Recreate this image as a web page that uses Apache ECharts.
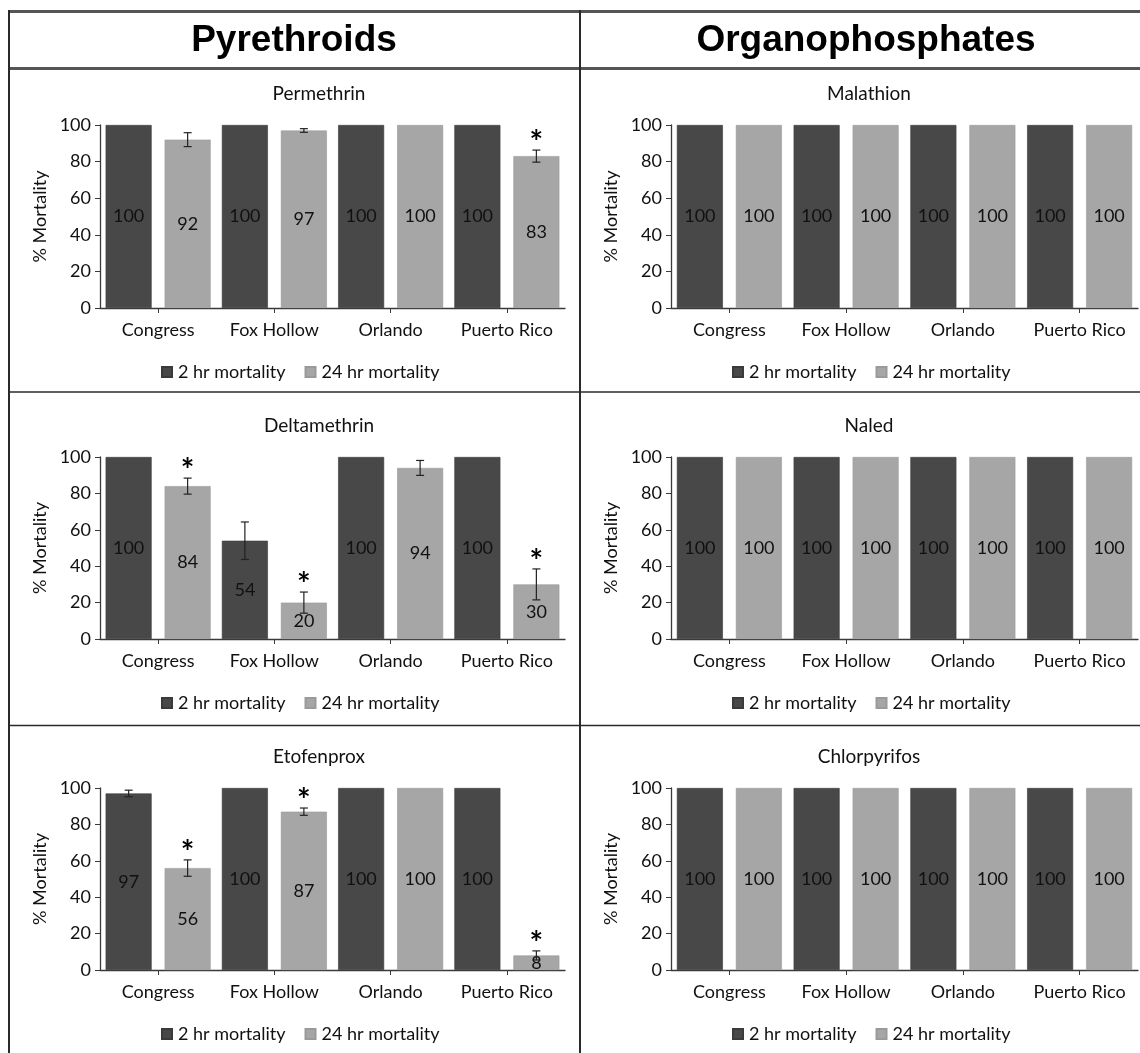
<!DOCTYPE html>
<html>
<head>
<meta charset="utf-8">
<script src="https://cdn.jsdelivr.net/npm/echarts@6/dist/echarts.min.js"></script>
<style>
html,body{margin:0;padding:0;background:#fff;}
#chart{width:1140px;height:1053px;}
</style>
</head>
<body>
<div id="chart"></div>
<script>
// ---------- DATA ----------
const categories = ['Congress', 'Fox Hollow', 'Orlando', 'Puerto Rico'];
const seriesNames = ['2 hr mortality', '24 hr mortality'];
const groupTitles = ['Pyrethroids', 'Organophosphates'];
const yTicks = [0, 20, 40, 60, 80, 100];

const permethrinTitle = 'Permethrin';
const permethrin2h = [100, 100, 100, 100];
const permethrin2hErr = [0, 0, 0, 0];
const permethrin24h = [92, 97, 100, 83];
const permethrin24hErr = [3.8, 1, 0, 3.3];
const permethrin24hSig = [0, 0, 0, 1];

const deltamethrinTitle = 'Deltamethrin';
const deltamethrin2h = [100, 54, 100, 100];
const deltamethrin2hErr = [0, 10.3, 0, 0];
const deltamethrin24h = [84, 20, 94, 30];
const deltamethrin24hErr = [4.4, 5.8, 4.1, 8.5];
const deltamethrin24hSig = [1, 1, 0, 1];

const etofenproxTitle = 'Etofenprox';
const etofenprox2h = [97, 100, 100, 100];
const etofenprox2hErr = [1.8, 0, 0, 0];
const etofenprox24h = [56, 87, 100, 8];
const etofenprox24hErr = [4.5, 2, 0, 2.5];
const etofenprox24hSig = [1, 1, 0, 1];

const malathionTitle = 'Malathion';
const malathion2h = [100, 100, 100, 100];
const malathion2hErr = [0, 0, 0, 0];
const malathion24h = [100, 100, 100, 100];
const malathion24hErr = [0, 0, 0, 0];
const malathion24hSig = [0, 0, 0, 0];

const naledTitle = 'Naled';
const naled2h = [100, 100, 100, 100];
const naled2hErr = [0, 0, 0, 0];
const naled24h = [100, 100, 100, 100];
const naled24hErr = [0, 0, 0, 0];
const naled24hSig = [0, 0, 0, 0];

const chlorpyrifosTitle = 'Chlorpyrifos';
const chlorpyrifos2h = [100, 100, 100, 100];
const chlorpyrifos2hErr = [0, 0, 0, 0];
const chlorpyrifos24h = [100, 100, 100, 100];
const chlorpyrifos24hErr = [0, 0, 0, 0];
const chlorpyrifos24hSig = [0, 0, 0, 0];

// ---------- LAYOUT / STYLE ----------
const FONT = 'Lato, "Open Sans", sans-serif';
const FS = 18;
const DARK = '#484848';
const LIGHT = '#a6a6a6';
const BAR_W = 46, BAR_GAP = 13;

const panels = [
  {title: permethrinTitle, a: permethrin2h, ae: permethrin2hErr, b: permethrin24h, be: permethrin24hErr, s: permethrin24hSig, col: 0, row: 0},
  {title: deltamethrinTitle, a: deltamethrin2h, ae: deltamethrin2hErr, b: deltamethrin24h, be: deltamethrin24hErr, s: deltamethrin24hSig, col: 0, row: 1},
  {title: etofenproxTitle, a: etofenprox2h, ae: etofenprox2hErr, b: etofenprox24h, be: etofenprox24hErr, s: etofenprox24hSig, col: 0, row: 2},
  {title: malathionTitle, a: malathion2h, ae: malathion2hErr, b: malathion24h, be: malathion24hErr, s: malathion24hSig, col: 1, row: 0},
  {title: naledTitle, a: naled2h, ae: naled2hErr, b: naled24h, be: naled24hErr, s: naled24hSig, col: 1, row: 1},
  {title: chlorpyrifosTitle, a: chlorpyrifos2h, ae: chlorpyrifos2hErr, b: chlorpyrifos24h, be: chlorpyrifos24hErr, s: chlorpyrifos24hSig, col: 1, row: 2}
];

const rowTop = [125, 457, 788];
const rowH = [183, 182, 182];
const colLeft = [100, 671];
const colW = [465, 467];
const titleCx = [314, 864];
const legendLeft = [156, 727];

const grid = [], xAxis = [], yAxis = [], series = [], title = [], legend = [];

function errRender(offset) {
  return function (params, api) {
    const ci = api.value(0), v = api.value(1), e = api.value(2), sig = api.value(3);
    const x = api.coord([ci, 0])[0] + offset;
    const yTop = api.coord([ci, v + e])[1];
    const yBot = api.coord([ci, v - e])[1];
    const cap = 4;
    const st = {stroke: '#222', lineWidth: 1.2};
    const children = [];
    if (e > 0) {
      children.push(
        {type: 'line', shape: {x1: x, y1: yTop, x2: x, y2: yBot}, style: st},
        {type: 'line', shape: {x1: x - cap, y1: yTop, x2: x + cap, y2: yTop}, style: st},
        {type: 'line', shape: {x1: x - cap, y1: yBot, x2: x + cap, y2: yBot}, style: st}
      );
    }
    if (sig) {
      children.push({type: 'text', style: {text: '*', x: x, y: yTop + 10, align: 'center', verticalAlign: 'bottom',
        font: 'bold 32px ' + FONT, fill: '#000'}});
    }
    return {type: 'group', children: children};
  };
}

panels.forEach((p, i) => {
  grid.push({left: colLeft[p.col], top: rowTop[p.row], width: colW[p.col], height: rowH[p.row], containLabel: false});
  xAxis.push({
    type: 'category', gridIndex: i, data: categories,
    axisLine: {lineStyle: {color: '#3a3a3a', width: 1.3}},
    axisTick: {show: true, alignWithLabel: true, length: 5, lineStyle: {color: '#3a3a3a'}},
    axisLabel: {interval: 0, color: '#111', fontSize: FS, fontFamily: FONT, margin: 13}
  });
  yAxis.push({
    type: 'value', gridIndex: i, min: 0, max: 100, interval: 20,
    name: '% Mortality', nameLocation: 'middle', nameGap: 51, nameRotate: 90,
    nameTextStyle: {color: '#111', fontSize: FS, fontFamily: FONT},
    axisLine: {show: true, lineStyle: {color: '#3a3a3a', width: 1.3}},
    axisTick: {show: true, length: 5, inside: false, lineStyle: {color: '#3a3a3a'}},
    axisLabel: {color: '#111', fontSize: FS, fontFamily: FONT, margin: 9,
      formatter: v => (yTicks.indexOf(v) >= 0 ? String(v) : '')},
    splitLine: {show: false}
  });
  title.push({text: p.title, left: titleCx[p.col], top: rowTop[p.row] - 46, textAlign: 'center',
    textStyle: {fontSize: 19, fontWeight: 'normal', color: '#111', fontFamily: FONT}});
  legend.push({data: seriesNames, left: legendLeft[p.col], top: rowTop[p.row] + rowH[p.row] + 50,
    itemWidth: 10, itemHeight: 10, itemGap: 19, icon: 'rect',
    textStyle: {fontSize: FS, color: '#111', fontFamily: FONT, padding: [0, 0, 0, 1]}});
  const labelCfg = {show: true, position: 'inside', color: '#111', fontSize: FS, fontFamily: FONT};
  series.push({name: seriesNames[0], type: 'bar', xAxisIndex: i, yAxisIndex: i, data: p.a,
    barWidth: BAR_W, barGap: (BAR_GAP / BAR_W * 100) + '%',
    itemStyle: {color: DARK, borderColor: '#3a3a3a', borderWidth: 0.6}, label: labelCfg});
  series.push({name: seriesNames[1], type: 'bar', xAxisIndex: i, yAxisIndex: i, data: p.b,
    barWidth: BAR_W, barGap: (BAR_GAP / BAR_W * 100) + '%',
    itemStyle: {color: LIGHT, borderColor: '#9a9a9a', borderWidth: 0.6}, label: labelCfg});
  const half = (BAR_W + BAR_GAP) / 2;
  series.push({type: 'custom', xAxisIndex: i, yAxisIndex: i, clip: false, z: 5, silent: true,
    renderItem: errRender(-half), encode: {x: 0, y: 1},
    data: p.a.map((v, k) => [k, v, p.ae[k], 0])});
  series.push({type: 'custom', xAxisIndex: i, yAxisIndex: i, clip: false, z: 5, silent: true,
    renderItem: errRender(half), encode: {x: 0, y: 1},
    data: p.b.map((v, k) => [k, v, p.be[k], p.s[k]])});
});

const frameColor = '#2a2a2a';
const graphic = [
  {type: 'line', shape: {x1: 8, y1: 11.5, x2: 1140, y2: 11.5}, style: {stroke: '#555', lineWidth: 3}},
  {type: 'line', shape: {x1: 8, y1: 68.5, x2: 1140, y2: 68.5}, style: {stroke: '#555', lineWidth: 3}},
  {type: 'line', shape: {x1: 9, y1: 10, x2: 9, y2: 1053}, style: {stroke: frameColor, lineWidth: 2}},
  {type: 'line', shape: {x1: 580, y1: 10, x2: 580, y2: 1053}, style: {stroke: frameColor, lineWidth: 2}},
  {type: 'line', shape: {x1: 9, y1: 392, x2: 1140, y2: 392}, style: {stroke: frameColor, lineWidth: 1.5}},
  {type: 'line', shape: {x1: 9, y1: 725.5, x2: 1140, y2: 725.5}, style: {stroke: frameColor, lineWidth: 1.5}},
  {type: 'text', style: {text: groupTitles[0], x: 294, y: 41, align: 'center', verticalAlign: 'middle',
    font: 'bold 37px "Liberation Sans", Arial, sans-serif', fill: '#000'}},
  {type: 'text', style: {text: groupTitles[1], x: 866, y: 41, align: 'center', verticalAlign: 'middle',
    font: 'bold 37px "Liberation Sans", Arial, sans-serif', fill: '#000'}}
];

const chart = echarts.init(document.getElementById('chart'), null, {renderer: 'canvas'});
chart.setOption({
  animation: false,
  backgroundColor: '#fff',
  color: [DARK, LIGHT],
  title: title, legend: legend, grid: grid, xAxis: xAxis, yAxis: yAxis, series: series, graphic: graphic
});
</script>
</body>
</html>
